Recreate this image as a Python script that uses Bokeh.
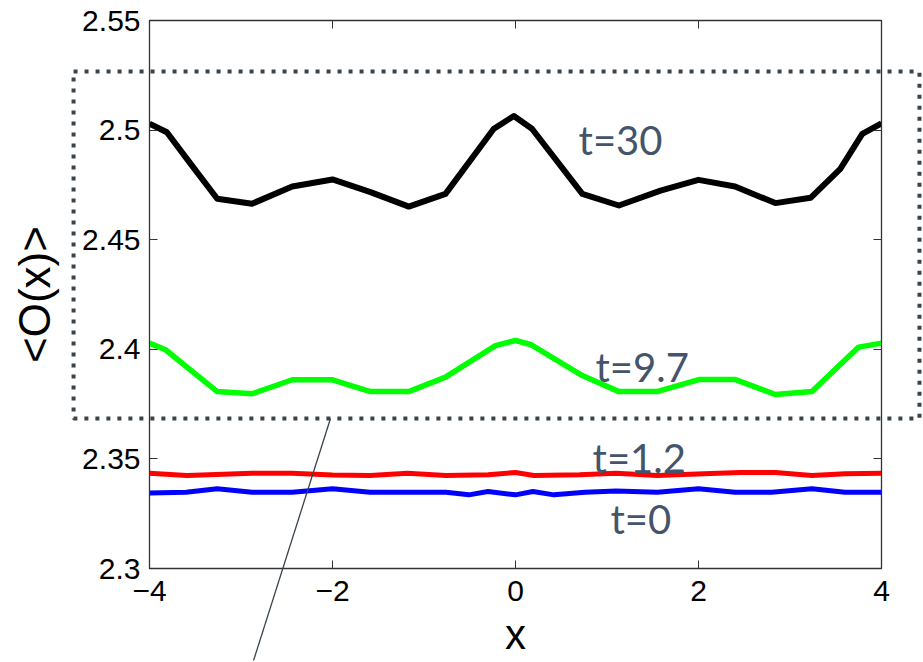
from bokeh.plotting import figure
from bokeh.models import Range1d, LinearAxis, FixedTicker
from bokeh.core.properties import value
from bokeh.embed import file_html
from bokeh.resources import INLINE

# ---- data ----
x_t30 = [-4.0, -3.81, -3.55, -3.26, -2.88, -2.44, -2.0, -1.585, -1.166, -0.765, -0.237, -0.018,
         0.18, 0.73, 1.13, 1.585, 2.0, 2.40, 2.84, 3.225, 3.55, 3.79, 4.0]
y_t30 = [2.5029, 2.4990, 2.4846, 2.4687, 2.4664, 2.4743, 2.4775, 2.4717, 2.4651, 2.4709, 2.5006, 2.5064,
         2.5006, 2.4709, 2.4656, 2.4724, 2.4773, 2.4743, 2.4667, 2.4691, 2.4823, 2.4983, 2.5031]

x_t97 = [-4.0, -3.825, -3.26, -2.88, -2.44, -2.0, -1.585, -1.166, -0.765, -0.219, 0.0,
         0.164, 0.73, 1.13, 1.547, 2.003, 2.404, 2.84, 3.24, 3.75, 4.0]
y_t97 = [2.4028, 2.3998, 2.3807, 2.3797, 2.3861, 2.3861, 2.3807, 2.3807, 2.3873, 2.4017, 2.4040,
         2.4022, 2.3880, 2.3807, 2.3807, 2.3862, 2.3862, 2.3794, 2.3807, 2.4010, 2.4028]

x_t12 = [-4.0, -3.59, -2.88, -2.44, -2.0, -1.59, -1.18, -0.76, -0.3, 0.0, 0.2, 0.7, 1.1, 1.55,
         2.06, 2.45, 2.84, 3.24, 3.6, 4.0]
y_t12 = [2.3435, 2.3424, 2.3435, 2.3435, 2.3427, 2.3424, 2.3435, 2.3424, 2.3428, 2.3438, 2.3424,
         2.3428, 2.3435, 2.3424, 2.3432, 2.3438, 2.3438, 2.3424, 2.3432, 2.3435]

x_t0 = [-4.0, -3.6, -3.26, -2.88, -2.44, -2.0, -1.59, -1.17, -0.76, -0.51, -0.3, 0.0, 0.19, 0.42,
        0.76, 1.1, 1.55, 2.0, 2.4, 2.8, 3.24, 3.6, 4.0]
y_t0 = [2.3345, 2.3348, 2.3364, 2.3348, 2.3348, 2.3364, 2.3348, 2.3348, 2.3348, 2.3336, 2.3351,
        2.3336, 2.3351, 2.3336, 2.3348, 2.3353, 2.3348, 2.3364, 2.3348, 2.3348, 2.3364, 2.3348, 2.3348]

labels = ["t=30", "t=9.7", "t=1.2", "t=0"]
x_ticks = [-4, -2, 0, 2, 4]
x_tick_labels = ["\u22124", "\u22122", "0", "2", "4"]
y_ticks = [2.3, 2.35, 2.4, 2.45, 2.5, 2.55]
y_tick_labels = ["2.3", "2.35", "2.4", "2.45", "2.5", "2.55"]

# ---- annotation placement ----
label_x = [0.689, 0.874, 0.842, 1.038]
label_y = [2.4953, 2.3917, 2.3506, 2.3228]
box_xs = [-4.83, 4.415, 4.415, -4.83, -4.83]
box_ys = [2.5267, 2.5267, 2.3684, 2.3684, 2.5267]
ptr_xs = [-2.022, -2.863]
ptr_ys = [2.3684, 2.258]

AX = "#333333"
p = figure(width=923, height=662, x_range=Range1d(-4, 4), y_range=Range1d(2.3, 2.55),
           output_backend="svg", toolbar_location=None,
           min_border_left=149, min_border_right=42, min_border_top=20, min_border_bottom=94)
p.grid.visible = False
p.outline_line_color = AX
p.outline_line_width = 1.3
p.background_fill_color = "white"
p.border_fill_color = "white"

p.xaxis.ticker = FixedTicker(ticks=x_ticks)
p.xaxis.major_label_overrides = dict(zip(x_ticks, x_tick_labels))
p.yaxis.ticker = FixedTicker(ticks=y_ticks)
p.yaxis.major_label_overrides = dict(zip(y_ticks, y_tick_labels))

for ax in p.xaxis + p.yaxis:
    ax.major_tick_in = 8
    ax.major_tick_out = 0
    ax.minor_tick_line_color = None
    ax.axis_line_color = AX
    ax.major_tick_line_color = AX
    ax.major_label_text_font = "Liberation Sans"
    ax.major_label_text_font_size = "30px"
    ax.major_label_text_color = "black"
    ax.axis_label_text_font = "Liberation Sans"
    ax.axis_label_text_font_style = "normal"
    ax.axis_label_text_color = "black"

p.xaxis.major_label_standoff = 12
p.yaxis.major_label_standoff = 9
p.xaxis.axis_label = "x"
p.xaxis.axis_label_text_font_size = "42px"
p.xaxis.axis_label_standoff = 7
p.yaxis.axis_label = "<O(x)>"
p.yaxis.axis_label_text_font_size = "44px"
p.yaxis.axis_label_standoff = 20

top = LinearAxis(ticker=FixedTicker(ticks=x_ticks),
                 major_label_overrides={t: "" for t in x_ticks},
                 major_tick_in=8, major_tick_out=0, minor_tick_line_color=None,
                 axis_line_color=AX, major_tick_line_color=AX, major_label_standoff=0)
right = LinearAxis(ticker=FixedTicker(ticks=y_ticks),
                   major_label_overrides={t: "" for t in y_ticks},
                   major_tick_in=8, major_tick_out=0, minor_tick_line_color=None,
                   axis_line_color=AX, major_tick_line_color=AX, major_label_standoff=0)
p.add_layout(top, "above")
p.add_layout(right, "right")

p.line(x_t0, y_t0, line_color="#0000ff", line_width=5, line_join="round")
p.line(x_t12, y_t12, line_color="#ff0000", line_width=5, line_join="round")
p.line(x_t97, y_t97, line_color="#00ff00", line_width=5.5, line_join="round")
p.line(x_t30, y_t30, line_color="#000000", line_width=6, line_join="round")

p.text(x=label_x, y=label_y, text=labels, text_font=value("Lato"), text_font_size="40px",
       text_color="#44546a", text_baseline="alphabetic", text_align="left")

p.line(box_xs, box_ys, line_color="#39434c", line_width=4, line_dash="4 7", level="overlay")
p.line(ptr_xs, ptr_ys, line_color="#39434c", line_width=1.3, level="overlay")

open("out.html", "w").write(file_html(p, INLINE))
